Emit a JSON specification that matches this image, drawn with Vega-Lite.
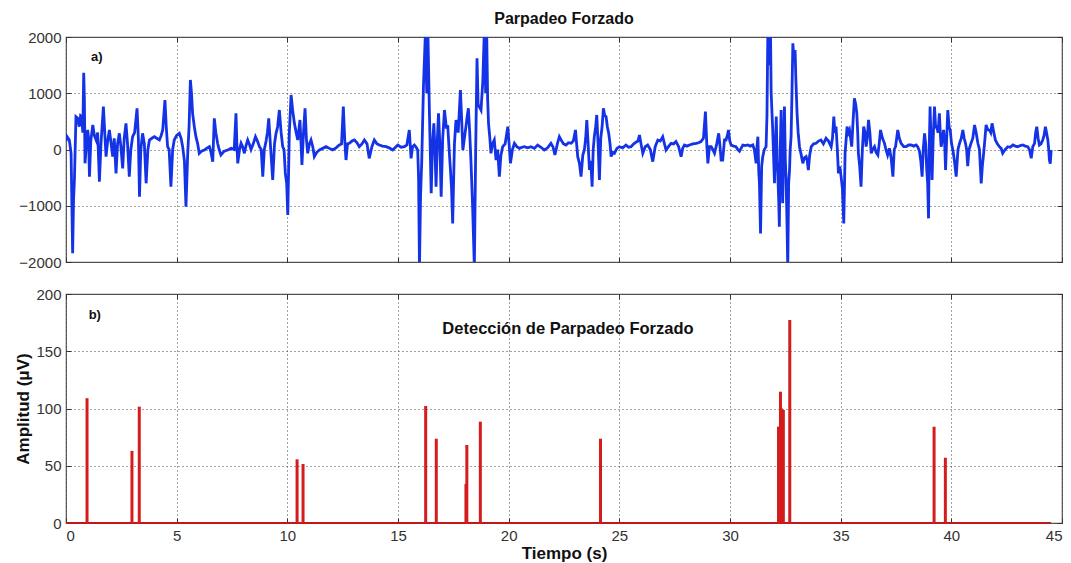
{
  "$schema": "https://vega.github.io/schema/vega-lite/v6.json",
  "padding": {"left": 13, "top": 10, "right": 9, "bottom": 6},
  "spacing": 15,
  "background": "white",
  "config": {
    "font": "Liberation Sans",
    "view": {"stroke": "#555", "strokeWidth": 1.2},
    "axis": {
      "labelFont": "Liberation Sans", "labelFontSize": 15, "labelColor": "#333",
      "titleFont": "Liberation Sans", "titleFontSize": 17, "titleFontWeight": "bold", "titleColor": "#111",
      "tickSize": -5, "tickColor": "#333", "labelPadding": 10, "format": "d",
      "domain": false, "grid": true, "gridColor": "#444", "gridDash": [1, 3], "gridWidth": 1
    }
  },
  "datasets": {
    "sig": [
      {"t":0.0,"v":150},{"t":0.05,"v":228},{"t":0.15,"v":169},{"t":0.23,"v":-68},{"t":0.30,"v":-1846},{"t":0.34,"v":-900},{"t":0.38,"v":-542},{"t":0.45,"v":584},{"t":0.52,"v":560},{"t":0.60,"v":406},{"t":0.66,"v":600},{"t":0.71,"v":584},{"t":0.76,"v":300},{"t":0.80,"v":1366},{"t":0.83,"v":900},{"t":0.86,"v":-246},{"t":0.92,"v":100},{"t":0.98,"v":347},{"t":1.02,"v":200},{"t":1.06,"v":-483},{"t":1.12,"v":150},{"t":1.21,"v":436},{"t":1.28,"v":250},{"t":1.36,"v":169},{"t":1.43,"v":300},{"t":1.51,"v":-572},{"t":1.58,"v":100},{"t":1.69,"v":762},{"t":1.75,"v":300},{"t":1.81,"v":-127},{"t":1.88,"v":150},{"t":1.96,"v":347},{"t":2.04,"v":100},{"t":2.11,"v":-127},{"t":2.18,"v":200},{"t":2.26,"v":-424},{"t":2.33,"v":100},{"t":2.41,"v":288},{"t":2.48,"v":50},{"t":2.56,"v":-335},{"t":2.63,"v":200},{"t":2.71,"v":465},{"t":2.78,"v":100},{"t":2.86,"v":-483},{"t":2.93,"v":0},{"t":3.01,"v":228},{"t":3.10,"v":300},{"t":3.21,"v":732},{"t":3.27,"v":200},{"t":3.32,"v":-838},{"t":3.38,"v":0},{"t":3.46,"v":288},{"t":3.54,"v":100},{"t":3.62,"v":-601},{"t":3.70,"v":0},{"t":3.77,"v":169},{"t":3.88,"v":200},{"t":3.99,"v":228},{"t":4.10,"v":200},{"t":4.22,"v":169},{"t":4.30,"v":250},{"t":4.37,"v":347},{"t":4.47,"v":880},{"t":4.53,"v":400},{"t":4.59,"v":50},{"t":4.66,"v":0},{"t":4.74,"v":-661},{"t":4.82,"v":0},{"t":4.89,"v":169},{"t":5.00,"v":250},{"t":5.12,"v":288},{"t":5.20,"v":200},{"t":5.27,"v":50},{"t":5.35,"v":-200},{"t":5.42,"v":-1017},{"t":5.50,"v":-68},{"t":5.56,"v":400},{"t":5.62,"v":1236},{"t":5.67,"v":1000},{"t":5.72,"v":643},{"t":5.80,"v":400},{"t":5.87,"v":228},{"t":5.95,"v":100},{"t":6.02,"v":-68},{"t":6.12,"v":-30},{"t":6.25,"v":-9},{"t":6.35,"v":20},{"t":6.48,"v":50},{"t":6.55,"v":-50},{"t":6.63,"v":-216},{"t":6.70,"v":555},{"t":6.77,"v":300},{"t":6.85,"v":110},{"t":6.92,"v":0},{"t":7.00,"v":-98},{"t":7.15,"v":-30},{"t":7.31,"v":-9},
      {"t":7.46,"v":20},{"t":7.60,"v":0},{"t":7.68,"v":643},{"t":7.72,"v":100},{"t":7.76,"v":-246},{"t":7.84,"v":0},{"t":7.91,"v":110},{"t":7.98,"v":50},{"t":8.06,"v":-68},{"t":8.14,"v":80},{"t":8.21,"v":169},{"t":8.28,"v":100},{"t":8.36,"v":0},{"t":8.46,"v":100},{"t":8.56,"v":228},{"t":8.65,"v":150},{"t":8.74,"v":50},{"t":8.82,"v":0},{"t":8.89,"v":-483},{"t":8.96,"v":0},{"t":9.04,"v":150},{"t":9.10,"v":300},{"t":9.16,"v":555},{"t":9.25,"v":0},{"t":9.34,"v":-542},{"t":9.42,"v":100},{"t":9.49,"v":288},{"t":9.56,"v":400},{"t":9.64,"v":702},{"t":9.72,"v":300},{"t":9.79,"v":50},{"t":9.85,"v":0},{"t":9.91,"v":-424},{"t":9.97,"v":-600},{"t":10.02,"v":-1165},{"t":10.09,"v":300},{"t":10.17,"v":969},{"t":10.24,"v":700},{"t":10.32,"v":465},{"t":10.40,"v":300},{"t":10.47,"v":169},{"t":10.57,"v":525},{"t":10.62,"v":100},{"t":10.66,"v":-276},{"t":10.73,"v":300},{"t":10.80,"v":732},{"t":10.86,"v":200},{"t":10.92,"v":-68},{"t":11.00,"v":100},{"t":11.07,"v":169},{"t":11.15,"v":50},{"t":11.22,"v":-127},{"t":11.33,"v":-50},{"t":11.45,"v":-9},{"t":11.60,"v":20},{"t":11.75,"v":50},{"t":11.90,"v":20},{"t":12.05,"v":-9},{"t":12.20,"v":30},{"t":12.35,"v":80},{"t":12.45,"v":100},{"t":12.53,"v":762},{"t":12.59,"v":200},{"t":12.65,"v":-187},{"t":12.72,"v":100},{"t":12.80,"v":110},{"t":12.92,"v":150},{"t":13.03,"v":169},{"t":13.15,"v":120},{"t":13.25,"v":50},{"t":13.37,"v":100},{"t":13.48,"v":169},{"t":13.60,"v":100},{"t":13.70,"v":-157},{"t":13.82,"v":50},{"t":13.93,"v":169},{"t":14.05,"v":100},{"t":14.16,"v":80},{"t":14.30,"v":60},{"t":14.46,"v":50},{"t":14.60,"v":30},{"t":14.76,"v":-9},
      {"t":14.99,"v":80},{"t":15.14,"v":40},{"t":15.29,"v":50},{"t":15.40,"v":80},{"t":15.51,"v":347},{"t":15.55,"v":100},{"t":15.59,"v":-157},{"t":15.66,"v":50},{"t":15.74,"v":80},{"t":15.82,"v":40},{"t":15.89,"v":-9},{"t":15.93,"v":-500},{"t":15.97,"v":-2100},{"t":16.02,"v":-800},{"t":16.07,"v":-246},{"t":16.15,"v":1117},{"t":16.24,"v":2100},{"t":16.30,"v":1000},{"t":16.35,"v":2100},{"t":16.42,"v":643},{"t":16.50,"v":-779},{"t":16.56,"v":100},{"t":16.62,"v":465},{"t":16.67,"v":0},{"t":16.72,"v":-661},{"t":16.78,"v":200},{"t":16.83,"v":643},{"t":16.89,"v":100},{"t":16.95,"v":-838},{"t":17.02,"v":200},{"t":17.10,"v":702},{"t":17.18,"v":400},{"t":17.25,"v":406},{"t":17.31,"v":0},{"t":17.37,"v":-365},{"t":17.42,"v":-700},{"t":17.47,"v":-1313},{"t":17.55,"v":100},{"t":17.62,"v":525},{"t":17.72,"v":300},{"t":17.82,"v":1058},{"t":17.88,"v":500},{"t":17.93,"v":-9},{"t":18.00,"v":200},{"t":18.07,"v":406},{"t":18.13,"v":600},{"t":18.18,"v":732},{"t":18.24,"v":300},{"t":18.30,"v":-246},{"t":18.37,"v":-1000},{"t":18.45,"v":-2100},{"t":18.51,"v":0},{"t":18.57,"v":1621},{"t":18.62,"v":800},{"t":18.67,"v":762},{"t":18.75,"v":700},{"t":18.83,"v":1200},{"t":18.90,"v":2100},{"t":18.96,"v":1000},{"t":19.01,"v":2000},{"t":19.05,"v":900},{"t":19.09,"v":465},{"t":19.15,"v":200},{"t":19.20,"v":-68},{"t":19.27,"v":100},{"t":19.35,"v":169},{"t":19.43,"v":-187},{"t":19.50,"v":0},{"t":19.58,"v":-483},{"t":19.65,"v":-100},{"t":19.73,"v":50},{"t":19.84,"v":100},{"t":19.96,"v":406},{"t":20.02,"v":100},{"t":20.08,"v":-246},{"t":20.17,"v":0},{"t":20.26,"v":110},{"t":20.37,"v":50},{"t":20.49,"v":20},{"t":20.60,"v":40},{"t":20.71,"v":50},{"t":20.86,"v":30},{"t":21.01,"v":50},{"t":21.16,"v":20},{"t":21.31,"v":80},{"t":21.46,"v":40},{"t":21.61,"v":-9},{"t":21.76,"v":30},{"t":21.91,"v":110},{"t":22.00,"v":50},{"t":22.09,"v":-98},{"t":22.20,"v":100},{"t":22.29,"v":228},
      {"t":22.37,"v":169},{"t":22.48,"v":100},{"t":22.59,"v":80},{"t":22.70,"v":120},{"t":22.82,"v":110},{"t":22.92,"v":150},{"t":23.02,"v":347},{"t":23.07,"v":100},{"t":23.12,"v":-127},{"t":23.20,"v":-250},{"t":23.27,"v":-483},{"t":23.35,"v":-100},{"t":23.42,"v":-9},{"t":23.48,"v":200},{"t":23.53,"v":525},{"t":23.59,"v":100},{"t":23.65,"v":-365},{"t":23.71,"v":-200},{"t":23.77,"v":-661},{"t":23.82,"v":0},{"t":23.87,"v":228},{"t":23.93,"v":400},{"t":23.98,"v":614},{"t":24.04,"v":100},{"t":24.10,"v":-542},{"t":24.16,"v":200},{"t":24.22,"v":400},{"t":24.28,"v":732},{"t":24.34,"v":600},{"t":24.40,"v":584},{"t":24.46,"v":400},{"t":24.52,"v":288},{"t":24.58,"v":100},{"t":24.63,"v":-127},{"t":24.70,"v":-50},{"t":24.78,"v":-68},{"t":24.89,"v":20},{"t":25.00,"v":50},{"t":25.15,"v":30},{"t":25.30,"v":80},{"t":25.42,"v":40},{"t":25.53,"v":50},{"t":25.65,"v":100},{"t":25.75,"v":130},{"t":25.84,"v":150},{"t":25.91,"v":258},{"t":25.98,"v":100},{"t":26.06,"v":-68},{"t":26.17,"v":50},{"t":26.28,"v":80},{"t":26.40,"v":0},{"t":26.51,"v":-216},{"t":26.62,"v":50},{"t":26.74,"v":169},{"t":26.85,"v":150},{"t":26.96,"v":228},{"t":27.04,"v":100},{"t":27.11,"v":-9},{"t":27.22,"v":50},{"t":27.34,"v":110},{"t":27.45,"v":100},{"t":27.56,"v":140},{"t":27.68,"v":50},{"t":27.79,"v":-127},{"t":27.86,"v":20},{"t":27.94,"v":80},{"t":28.05,"v":60},{"t":28.17,"v":80},{"t":28.32,"v":100},{"t":28.47,"v":110},{"t":28.58,"v":120},{"t":28.69,"v":140},{"t":28.80,"v":200},{"t":28.89,"v":673},{"t":28.95,"v":100},{"t":29.00,"v":-246},{"t":29.07,"v":50},{"t":29.15,"v":50},{"t":29.22,"v":0},{"t":29.30,"v":-68},{"t":29.40,"v":100},{"t":29.49,"v":288},{"t":29.55,"v":50},{"t":29.60,"v":-187},{"t":29.67,"v":-187},{"t":29.75,"v":169},
      {"t":29.82,"v":169},{"t":29.88,"v":250},{"t":29.93,"v":347},{"t":29.99,"v":150},{"t":30.05,"v":80},{"t":30.16,"v":60},{"t":30.27,"v":50},{"t":30.35,"v":0},{"t":30.43,"v":-30},{"t":30.50,"v":20},{"t":30.58,"v":80},{"t":30.69,"v":70},{"t":30.80,"v":80},{"t":30.92,"v":60},{"t":31.03,"v":80},{"t":31.10,"v":0},{"t":31.18,"v":-246},{"t":31.22,"v":50},{"t":31.26,"v":228},{"t":31.30,"v":-400},{"t":31.33,"v":-600},{"t":31.38,"v":-1491},{"t":31.43,"v":-300},{"t":31.48,"v":-127},{"t":31.55,"v":0},{"t":31.63,"v":50},{"t":31.67,"v":600},{"t":31.71,"v":2100},{"t":31.77,"v":1500},{"t":31.83,"v":2100},{"t":31.86,"v":999},{"t":31.93,"v":347},{"t":32.01,"v":-601},{"t":32.05,"v":0},{"t":32.09,"v":584},{"t":32.13,"v":-200},{"t":32.16,"v":-424},{"t":32.20,"v":-900},{"t":32.23,"v":-1372},{"t":32.27,"v":0},{"t":32.31,"v":702},{"t":32.34,"v":-200},{"t":32.38,"v":-956},{"t":32.42,"v":0},{"t":32.46,"v":762},{"t":32.50,"v":-200},{"t":32.53,"v":-483},{"t":32.57,"v":-1200},{"t":32.61,"v":-2100},{"t":32.65,"v":-600},{"t":32.69,"v":-365},{"t":32.72,"v":0},{"t":32.76,"v":228},{"t":32.80,"v":1000},{"t":32.84,"v":1888},{"t":32.89,"v":1600},{"t":32.94,"v":1770},{"t":32.98,"v":1200},{"t":33.03,"v":643},{"t":33.08,"v":300},{"t":33.14,"v":50},{"t":33.22,"v":-100},{"t":33.29,"v":-246},{"t":33.36,"v":-150},{"t":33.44,"v":-127},{"t":33.49,"v":-200},{"t":33.54,"v":-365},{"t":33.60,"v":-100},{"t":33.67,"v":50},{"t":33.78,"v":100},{"t":33.89,"v":110},{"t":34.00,"v":150},{"t":34.11,"v":169},{"t":34.22,"v":100},{"t":34.34,"v":200},{"t":34.45,"v":150},{"t":34.57,"v":50},{"t":34.63,"v":200},{"t":34.69,"v":584},{"t":34.74,"v":300},{"t":34.79,"v":406},{"t":34.85,"v":0},{"t":34.90,"v":-424},{"t":34.96,"v":-300},{"t":35.02,"v":-483},{"t":35.08,"v":-700},{"t":35.14,"v":-1313},{"t":35.20,"v":-68},{"t":35.29,"v":406},{"t":35.35,"v":300},{"t":35.40,"v":347},{"t":35.45,"v":200},{"t":35.50,"v":50},{"t":35.56,"v":500},{"t":35.62,"v":910},{"t":35.68,"v":800},{"t":35.73,"v":643},{"t":35.77,"v":300},{"t":35.80,"v":-68},{"t":35.86,"v":-300},{"t":35.92,"v":-661},{"t":35.98,"v":0},{"t":36.04,"v":406},{"t":36.10,"v":300},{"t":36.15,"v":50},{"t":36.20,"v":200},{"t":36.26,"v":525},{"t":36.32,"v":300},{"t":36.38,"v":-68},{"t":36.45,"v":0},{"t":36.53,"v":50},{"t":36.60,"v":-50},{"t":36.68,"v":-98},{"t":36.74,"v":100},{"t":36.80,"v":347},{"t":36.89,"v":200},{"t":36.98,"v":110},
      {"t":37.05,"v":-9},{"t":37.12,"v":-100},{"t":37.20,"v":20},{"t":37.28,"v":-150},{"t":37.36,"v":-483},{"t":37.42,"v":0},{"t":37.48,"v":50},{"t":37.53,"v":200},{"t":37.58,"v":347},{"t":37.65,"v":200},{"t":37.73,"v":110},{"t":37.85,"v":50},{"t":37.96,"v":50},{"t":38.07,"v":80},{"t":38.18,"v":80},{"t":38.30,"v":60},{"t":38.41,"v":80},{"t":38.48,"v":50},{"t":38.56,"v":-30},{"t":38.62,"v":-200},{"t":38.68,"v":-483},{"t":38.73,"v":0},{"t":38.79,"v":288},{"t":38.84,"v":100},{"t":38.89,"v":-365},{"t":38.93,"v":-600},{"t":38.97,"v":-1224},{"t":39.00,"v":0},{"t":39.04,"v":762},{"t":39.08,"v":200},{"t":39.13,"v":-542},{"t":39.18,"v":200},{"t":39.24,"v":762},{"t":39.29,"v":400},{"t":39.34,"v":406},{"t":39.40,"v":300},{"t":39.46,"v":643},{"t":39.50,"v":300},{"t":39.54,"v":50},{"t":39.60,"v":200},{"t":39.65,"v":347},{"t":39.70,"v":100},{"t":39.74,"v":-365},{"t":39.79,"v":200},{"t":39.84,"v":702},{"t":39.90,"v":400},{"t":39.95,"v":347},{"t":40.01,"v":100},{"t":40.07,"v":-9},{"t":40.14,"v":-200},{"t":40.22,"v":-483},{"t":40.30,"v":0},{"t":40.37,"v":110},{"t":40.45,"v":200},{"t":40.52,"v":347},{"t":40.58,"v":200},{"t":40.64,"v":110},{"t":40.69,"v":0},{"t":40.74,"v":-295},{"t":40.80,"v":0},{"t":40.89,"v":110},{"t":40.97,"v":200},{"t":41.05,"v":436},{"t":41.12,"v":300},{"t":41.20,"v":110},{"t":41.27,"v":0},{"t":41.35,"v":-601},{"t":41.40,"v":-300},{"t":41.46,"v":-68},{"t":41.52,"v":200},{"t":41.57,"v":436},{"t":41.65,"v":350},{"t":41.72,"v":347},{"t":41.78,"v":300},{"t":41.84,"v":465},{"t":41.92,"v":300},{"t":41.99,"v":169},{"t":42.08,"v":100},{"t":42.17,"v":50},{"t":42.25,"v":20},{"t":42.32,"v":-68},{"t":42.43,"v":0},{"t":42.55,"v":50},{"t":42.66,"v":40},{"t":42.78,"v":80},{"t":42.89,"v":60},{"t":43.00,"v":50},{"t":43.12,"v":70},{"t":43.23,"v":80},{"t":43.34,"v":60},{"t":43.45,"v":50},{"t":43.53,"v":0},{"t":43.61,"v":-157},{"t":43.68,"v":50},{"t":43.76,"v":110},{"t":43.81,"v":300},{"t":43.86,"v":406},{"t":43.92,"v":200},{"t":43.98,"v":80},{"t":44.05,"v":100},{"t":44.13,"v":169},{"t":44.19,"v":250},{"t":44.25,"v":406},{"t":44.30,"v":300},{"t":44.36,"v":169},{"t":44.40,"v":0},{"t":44.43,"v":-187},{"t":44.47,"v":-250},{"t":44.51,"v":-9}
    ],
    "det": [
      {"t":0.95,"a":109},{"t":2.98,"a":63},{"t":3.31,"a":101.6},{"t":10.44,"a":55.6},{"t":10.71,"a":51.5},
      {"t":16.25,"a":102.2},{"t":16.73,"a":73.6},{"t":18.07,"a":34},{"t":18.11,"a":68.1},{"t":18.72,"a":88.5},{"t":24.15,"a":73.6},
      {"t":32.19,"a":84.1},{"t":32.24,"a":84.1},{"t":32.28,"a":114.7},{"t":32.33,"a":100},{"t":32.41,"a":98.7},{"t":32.70,"a":177.3},
      {"t":39.22,"a":84.1},{"t":39.73,"a":57}
    ],
    "base": [{"t0":0,"t1":44.5,"a":0}],
    "labA": [{"t":1.39,"v":1636,"label":"a)"}],
    "labB": [{"t":1.30,"a":181.8,"label":"b)"}],
    "labC": [{"t":22.68,"a":169,"label":"Detección de Parpadeo Forzado"}]
  },
  "vconcat": [
    {
      "width": 996,
      "height": 225,
      "title": {"text": "Parpadeo Forzado", "fontSize": 16, "fontWeight": "bold", "font": "Liberation Sans", "color": "#111", "offset": 3},
      "resolve": {"axis": {"x": "independent", "y": "independent"}},
      "layer": [
        {
          "data": {"name": "sig"},
          "mark": {"type": "line", "color": "#1433e6", "strokeWidth": 2.8, "clip": true},
          "encoding": {
            "x": {"field": "t", "type": "quantitative", "scale": {"domain": [0, 45], "nice": false},
                  "axis": {"orient": "bottom", "values": [0,5,10,15,20,25,30,35,40,45], "labels": false, "title": null}},
            "y": {"field": "v", "type": "quantitative", "scale": {"domain": [-2000, 2000], "nice": false},
                  "axis": {"orient": "left", "values": [-2000,-1000,0,1000,2000], "title": null}}
          }
        },
        {
          "data": {"name": "labA"},
          "mark": {"type": "text", "font": "Liberation Sans", "fontWeight": "bold", "fontSize": 13, "color": "#111"},
          "encoding": {
            "x": {"field": "t", "type": "quantitative", "axis": {"orient": "top", "values": [0,5,10,15,20,25,30,35,40,45], "labels": false, "grid": false, "title": null}},
            "y": {"field": "v", "type": "quantitative", "axis": {"orient": "right", "values": [-2000,-1000,0,1000,2000], "labels": false, "grid": false, "title": null}},
            "text": {"field": "label", "type": "nominal"}
          }
        }
      ]
    },
    {
      "width": 996,
      "height": 229,
      "resolve": {"axis": {"x": "independent", "y": "independent"}},
      "layer": [
        {
          "data": {"name": "base"},
          "mark": {"type": "rule", "color": "#c01818", "strokeWidth": 2},
          "encoding": {
            "x": {"field": "t0", "type": "quantitative", "scale": {"domain": [0, 45], "nice": false},
                  "axis": {"orient": "bottom", "values": [0,5,10,15,20,25,30,35,40,45], "title": "Tiempo (s)", "titlePadding": 2}},
            "x2": {"field": "t1"},
            "y": {"field": "a", "type": "quantitative", "scale": {"domain": [0, 200], "nice": false},
                  "axis": {"orient": "left", "values": [0,50,100,150,200], "title": "Amplitud (μV)", "titleX": -43, "titleY": 114.5, "titleAngle": -90, "titleBaseline": "middle", "titleAlign": "center"}}
          }
        },
        {
          "data": {"name": "det"},
          "mark": {"type": "rule", "color": "#d41c1c", "strokeWidth": 3},
          "encoding": {
            "x": {"field": "t", "type": "quantitative", "axis": {"orient": "top", "values": [0,5,10,15,20,25,30,35,40,45], "labels": false, "grid": false, "title": null}},
            "y": {"field": "a", "type": "quantitative", "axis": {"orient": "right", "values": [0,50,100,150,200], "labels": false, "grid": false, "title": null}},
            "y2": {"datum": 0}
          }
        },
        {
          "data": {"name": "labB"},
          "mark": {"type": "text", "font": "Liberation Sans", "fontWeight": "bold", "fontSize": 13, "color": "#111"},
          "encoding": {
            "x": {"field": "t", "type": "quantitative", "axis": null},
            "y": {"field": "a", "type": "quantitative", "axis": null},
            "text": {"field": "label", "type": "nominal"}
          }
        },
        {
          "data": {"name": "labC"},
          "mark": {"type": "text", "font": "Liberation Sans", "fontWeight": "bold", "fontSize": 16.5, "color": "#111"},
          "encoding": {
            "x": {"field": "t", "type": "quantitative", "axis": null},
            "y": {"field": "a", "type": "quantitative", "axis": null},
            "text": {"field": "label", "type": "nominal"}
          }
        }
      ]
    }
  ]
}
